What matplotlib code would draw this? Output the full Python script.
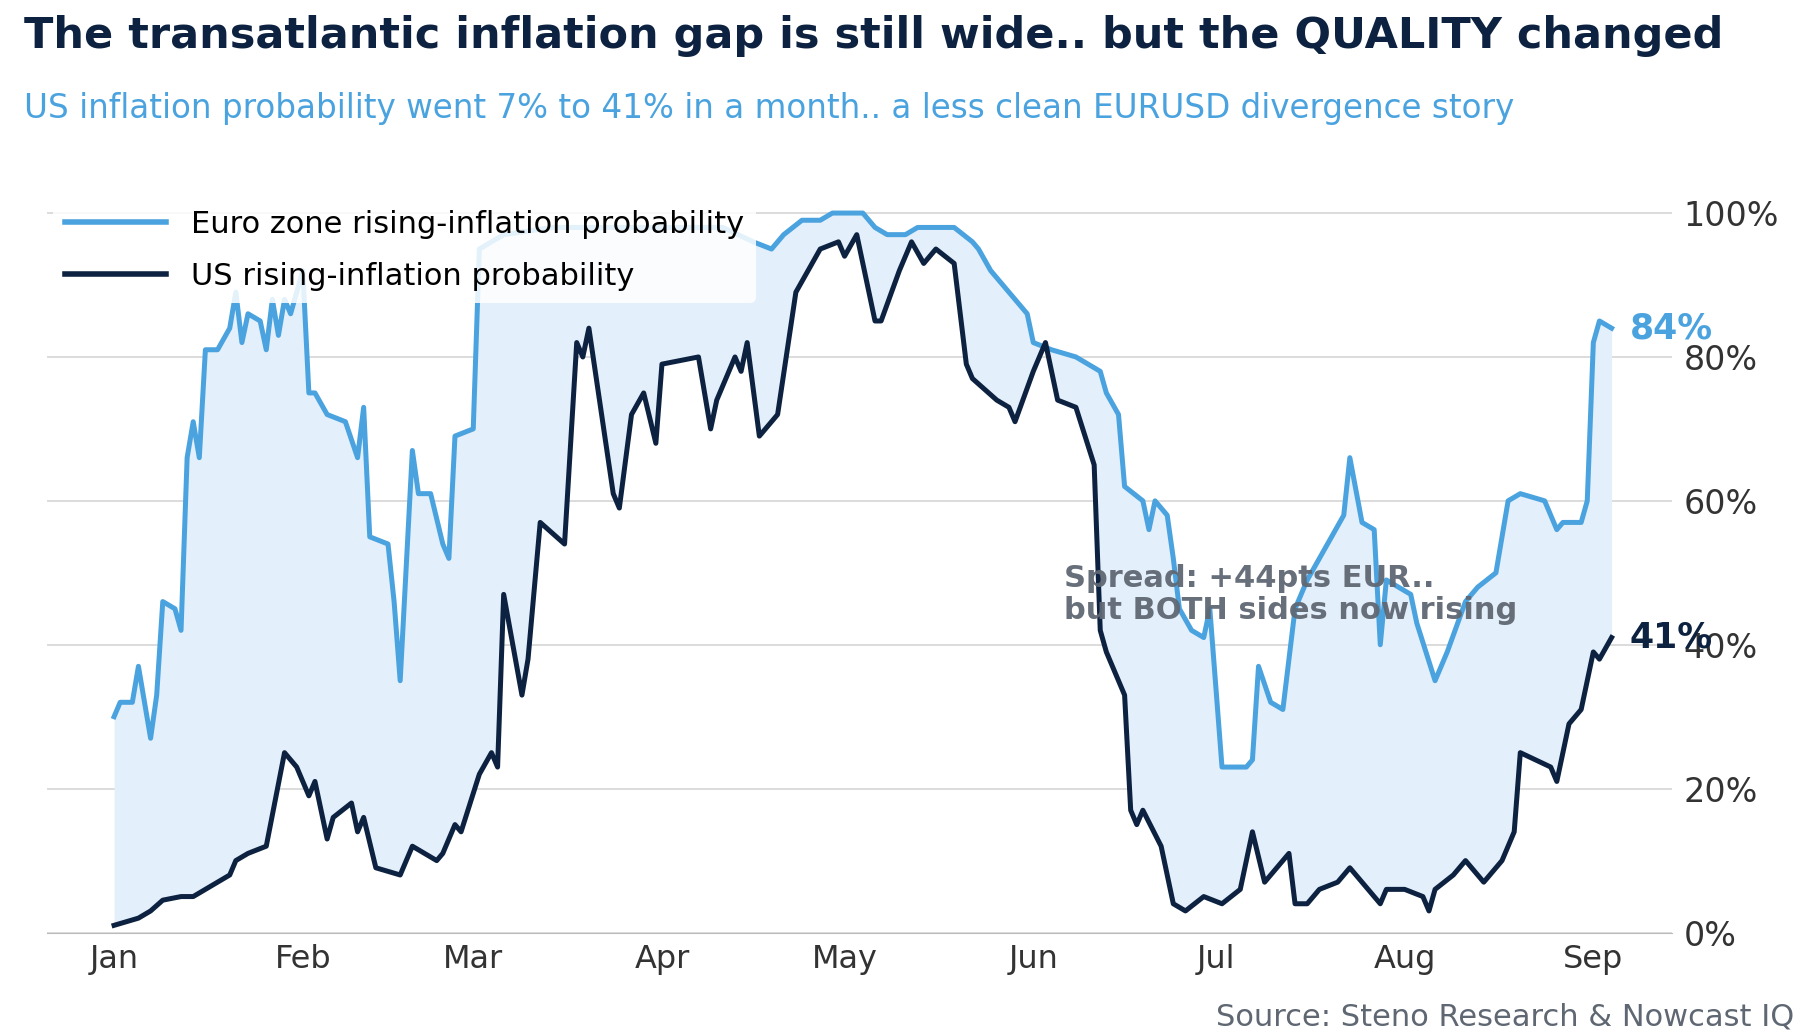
import matplotlib
matplotlib.use("Agg")
import matplotlib.pyplot as plt
import numpy as np
import datetime as dt

base = dt.date(2025, 1, 1)
days_eur = [0,1,3,4,6,7,8,10,11,12,
            13,14,15,17,19,20,21,22,24,25,
            26,27,28,29,31,32,33,35,38,40,
            41,42,45,46,47,49,50,52,54,55,
            56,59,60,64,72,82,92,100,105,
            108,110,113,116,118,123,125,127,130,132,
            135,138,141,142,144,146,148,150,151,154,
            158,160,162,163,165,166,169,170,171,173,
            174,175,177,179,180,182,186,187,188,190,
            192,194,196,198,200,202,203,205,207,208,
            209,213,214,217,219,222,224,227,229,231,
            235,237,238,241,242,243,244,246]
eur = [30,32,32,37,27,33,46,45,42,66,
       71,66,81,81,84,89,82,86,85,81,
       88,83,88,86,92,75,75,72,71,66,
       73,55,54,46,35,67,61,61,54,52,
       69,70,95,97,98,98,98,98,96,
       95,97,99,99,100,100,98,97,97,98,
       98,98,96,95,92,90,88,86,82,81,
       80,79,78,75,72,62,60,56,60,58,
       52,45,42,41,45,23,23,24,37,32,
       31,45,49,52,55,58,66,57,56,40,
       49,47,43,35,39,46,48,50,60,61,
       60,56,57,57,60,82,85,84]
days_us = [0,4,6,8,11,13,15,19,20,22,25,28,30,32,33,35,36,39,40,41,43,47,49,53,54,56,57,60,62,63,
           64,67,68,70,74,76,77,78,82,83,85,87,89,90,96,98,99,102,103,104,106,109,112,116,119,120,122,125,126,129,
           131,133,135,138,140,141,145,147,148,151,153,155,158,161,162,163,164,166,167,168,169,172,174,176,179,182,185,187,189,191,
           193,194,196,198,201,203,205,208,209,212,215,216,217,220,222,225,228,230,231,236,237,239,241,243,244,246]
us = [1,2,3,4.5,5,5,6,8,10,11,12,25,23,19,21,13,16,18,14,16,9,8,12,10,11,15,14,22,25,23,
      47,33,38,57,54,82,80,84,61,59,72,75,68,79,80,70,74,80,78,82,69,72,89,95,96,94,97,85,85,92,
      96,93,95,93,79,77,74,73,71,78,82,74,73,65,42,39,37,33,17,15,17,12,4,3,5,4,6,14,7,9,
      11,4,4,6,7,9,7,4,6,6,5,3,6,8,10,7,10,14,25,23,21,29,31,39,38,41]
month_labels = ["Jan","Feb","Mar","Apr","May","Jun","Jul","Aug","Sep"]
yticks = [0,20,40,60,80,100]

BLUE = "#4aa3df"; NAVY = "#0d2240"; GRAY = "#5f6773"
plt.rcParams['font.family'] = ['DejaVu Sans']

d_eur = np.array([np.datetime64(base) + np.timedelta64(d, 'D') for d in days_eur])
d_us = np.array([np.datetime64(base) + np.timedelta64(d, 'D') for d in days_us])
all_days = np.arange(np.datetime64(base), np.datetime64(base) + np.timedelta64(247, 'D'))
xa = all_days.astype(float)
e_i = np.interp(xa, d_eur.astype(float), eur)
u_i = np.interp(xa, d_us.astype(float), us)

fig = plt.figure(figsize=(18.12, 10.35), dpi=100)
ax = fig.add_axes([0.026, 0.099, 0.897, 0.716])
ax.fill_between(all_days, u_i, e_i, color="#e3effa", lw=0)
ax.plot(d_eur, eur, color=BLUE, lw=3.6, label="Euro zone rising-inflation probability")
ax.plot(d_us, us, color=NAVY, lw=3.6, label="US rising-inflation probability")

ax.set_ylim(0, 103)
ax.set_xlim(np.datetime64('2024-12-21'), np.datetime64('2025-09-14'))
ax.yaxis.tick_right()
ax.set_yticks(yticks)
ax.set_yticklabels([f"{v}%" for v in yticks], fontsize=24, color="#333333")
ax.set_xticks([np.datetime64(f'2025-{m:02d}-01') for m in range(1, 10)])
ax.set_xticklabels(month_labels, fontsize=23, color="#333333")
ax.tick_params(length=0, pad=8)
ax.grid(axis='y', color="#d5d5d5", lw=1.2)
ax.set_axisbelow(True)
for s in ["top", "left", "right"]:
    ax.spines[s].set_visible(False)
ax.spines["bottom"].set_color("#bbbbbb")

leg = ax.legend(loc="upper left", fontsize=22, frameon=True, facecolor="white", edgecolor="none",
                framealpha=0.85, handlelength=3.3, labelspacing=0.75, borderaxespad=0.2,
                bbox_to_anchor=(0.0, 1.0))
for l in leg.get_lines():
    l.set_linewidth(4)

ax.text(np.datetime64('2025-06-06'), 47, "Spread: +44pts EUR..\nbut BOTH sides now rising",
        fontsize=22, fontweight='bold', color=GRAY, alpha=0.95, linespacing=1.15, va='center')
ax.text(d_eur[-1] + np.timedelta64(3, 'D'), eur[-1], f"{eur[-1]}%", fontsize=25, fontweight='bold',
        color=BLUE, va='center')
ax.text(d_us[-1] + np.timedelta64(3, 'D'), us[-1], f"{us[-1]}%", fontsize=25, fontweight='bold',
        color=NAVY, va='center')

fig.text(0.013, 0.965, "The transatlantic inflation gap is still wide.. but the QUALITY changed",
         fontsize=31, fontweight='bold', color=NAVY, va='center')
fig.text(0.013, 0.895, "US inflation probability went 7% to 41% in a month.. a less clean EURUSD divergence story",
         fontsize=23.5, color=BLUE, va='center')
fig.text(0.99, 0.017, "Source: Steno Research & Nowcast IQ", fontsize=22, color=GRAY, ha='right', va='center')

fig.savefig("out.png", dpi=100)
